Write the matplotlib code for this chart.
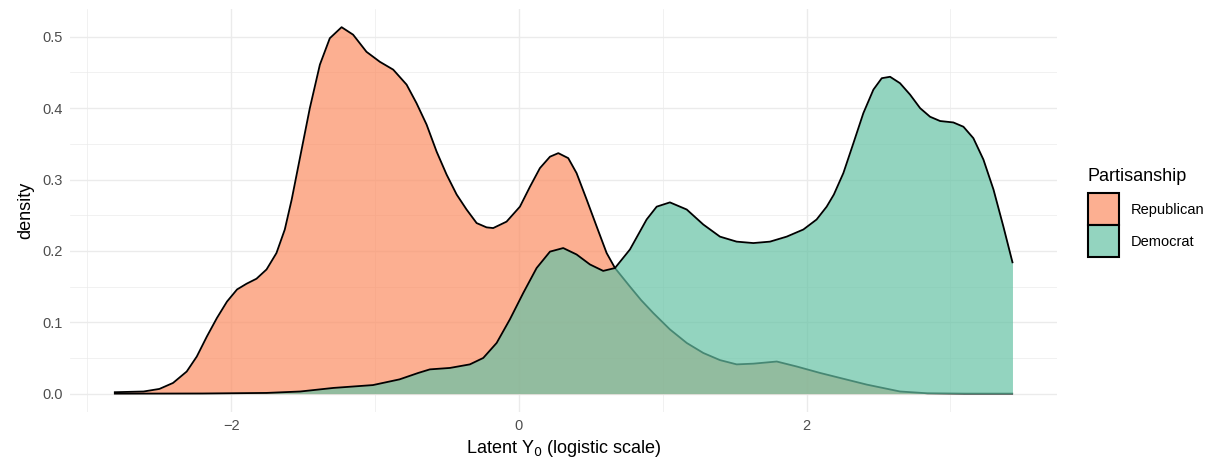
import matplotlib.pyplot as plt
from matplotlib.colors import to_rgba
from matplotlib.patches import Patch

plt.rcParams['font.family'] = ['Liberation Sans', 'DejaVu Sans']

# values (x on logistic scale, density)
rep_x = [-2.81, -2.61, -2.50, -2.405, -2.31, -2.24, -2.17, -2.10, -2.03, -1.96, -1.894,
         -1.825, -1.755, -1.686, -1.628, -1.58, -1.523, -1.454, -1.384, -1.315, -1.233,
         -1.153, -1.06, -0.967, -0.874, -0.781, -0.712, -0.642, -0.572, -0.503, -0.433,
         -0.364, -0.294, -0.225, -0.179, -0.086, 0.007, 0.077, 0.146, 0.216, 0.274,
         0.343, 0.401, 0.471, 0.541, 0.61, 0.668, 0.772, 0.85, 0.934, 1.05, 1.167,
         1.282, 1.398, 1.514, 1.63, 1.793, 1.932, 2.094, 2.233, 2.42, 2.65, 2.84, 3.1, 3.43]
rep_y = [0.002, 0.003, 0.0066, 0.015, 0.031, 0.052, 0.080, 0.106, 0.129, 0.146, 0.154,
         0.161, 0.174, 0.197, 0.230, 0.272, 0.330, 0.400, 0.461, 0.498, 0.5135,
         0.503, 0.479, 0.465, 0.454, 0.433, 0.407, 0.377, 0.339, 0.307, 0.279,
         0.258, 0.239, 0.233, 0.232, 0.241, 0.262, 0.290, 0.316, 0.332, 0.337,
         0.330, 0.309, 0.272, 0.234, 0.197, 0.176, 0.150, 0.131, 0.113, 0.090, 0.071,
         0.057, 0.047, 0.041, 0.042, 0.045, 0.038, 0.029, 0.022, 0.0126, 0.003, 0.0005, 0.0, 0.0]

dem_x = [-2.81, -2.2, -1.755, -1.52, -1.29, -1.015, -0.83, -0.7, -0.619, -0.48, -0.341,
         -0.248, -0.155, -0.063, 0.03, 0.123, 0.216, 0.308, 0.401, 0.494, 0.586, 0.668,
         0.772, 0.888, 0.958, 1.05, 1.167, 1.282, 1.398, 1.514, 1.63, 1.746, 1.862,
         1.978, 2.07, 2.14, 2.19, 2.256, 2.326, 2.395, 2.465, 2.523, 2.581, 2.65, 2.72,
         2.79, 2.859, 2.929, 3.021, 3.091, 3.16, 3.23, 3.30, 3.369, 3.432]
dem_y = [0.0, 0.0002, 0.001, 0.003, 0.008, 0.012, 0.020, 0.029, 0.034, 0.036, 0.041,
         0.050, 0.071, 0.104, 0.141, 0.176, 0.199, 0.204, 0.195, 0.181, 0.172, 0.176,
         0.202, 0.244, 0.262, 0.268, 0.258, 0.237, 0.220, 0.213, 0.211, 0.213, 0.220,
         0.230, 0.244, 0.262, 0.279, 0.309, 0.351, 0.393, 0.426, 0.442, 0.444, 0.435, 0.419,
         0.400, 0.388, 0.382, 0.380, 0.374, 0.358, 0.328, 0.286, 0.234, 0.184]

groups = ["Republican", "Democrat"]
colors = ["#FC8D62", "#66C2A5"]

fig = plt.figure(figsize=(12.25, 4.68), dpi=100)
ax = fig.add_axes([0.0571, 0.1197, 0.8058, 0.8611])

z = 2
for xs, ys, c in [(rep_x, rep_y, colors[0]), (dem_x, dem_y, colors[1])]:
    ax.fill_between(xs, 0, ys, color=c, alpha=0.7, linewidth=0, zorder=z)
    ax.plot(xs, ys, color="black", linewidth=1.3, solid_joinstyle="round", zorder=z + 1)
    z += 2

ax.set_xlim(-3.122, 3.742)
ax.set_ylim(-0.0257, 0.539)
ax.set_xticks([-2, 0, 2])
ax.set_xticks([-3, -1, 1, 3], minor=True)
ax.set_yticks([0.0, 0.1, 0.2, 0.3, 0.4, 0.5])
ax.set_yticklabels(["0.0", "0.1", "0.2", "0.3", "0.4", "0.5"])
ax.set_yticks([0.05, 0.15, 0.25, 0.35, 0.45], minor=True)
ax.grid(which="major", color="#EBEBEB", linewidth=1.0)
ax.grid(which="minor", color="#EBEBEB", linewidth=0.5)
ax.set_axisbelow(True)
ax.tick_params(which="both", length=0, labelsize=10.5, labelcolor="#4D4D4D", pad=5)
for s in ax.spines.values():
    s.set_visible(False)

ax.set_xlabel("Latent Y$_0$ (logistic scale)", fontsize=13, labelpad=4)
ax.set_ylabel("density", fontsize=13, labelpad=6)

handles = [Patch(facecolor=to_rgba(c, 0.7), edgecolor="black", linewidth=1.5) for c in colors]
leg = fig.legend(handles, groups, title="Partisanship", loc="upper left",
                 bbox_to_anchor=(0.888, 0.641), frameon=False, fontsize=10.5,
                 title_fontsize=13, handlelength=2.15, handleheight=3.0,
                 handletextpad=0.8, labelspacing=0.0, borderaxespad=0, borderpad=0)
leg._legend_box.align = "left"
leg._legend_box.sep = 6

fig.savefig("out.png", dpi=100)
